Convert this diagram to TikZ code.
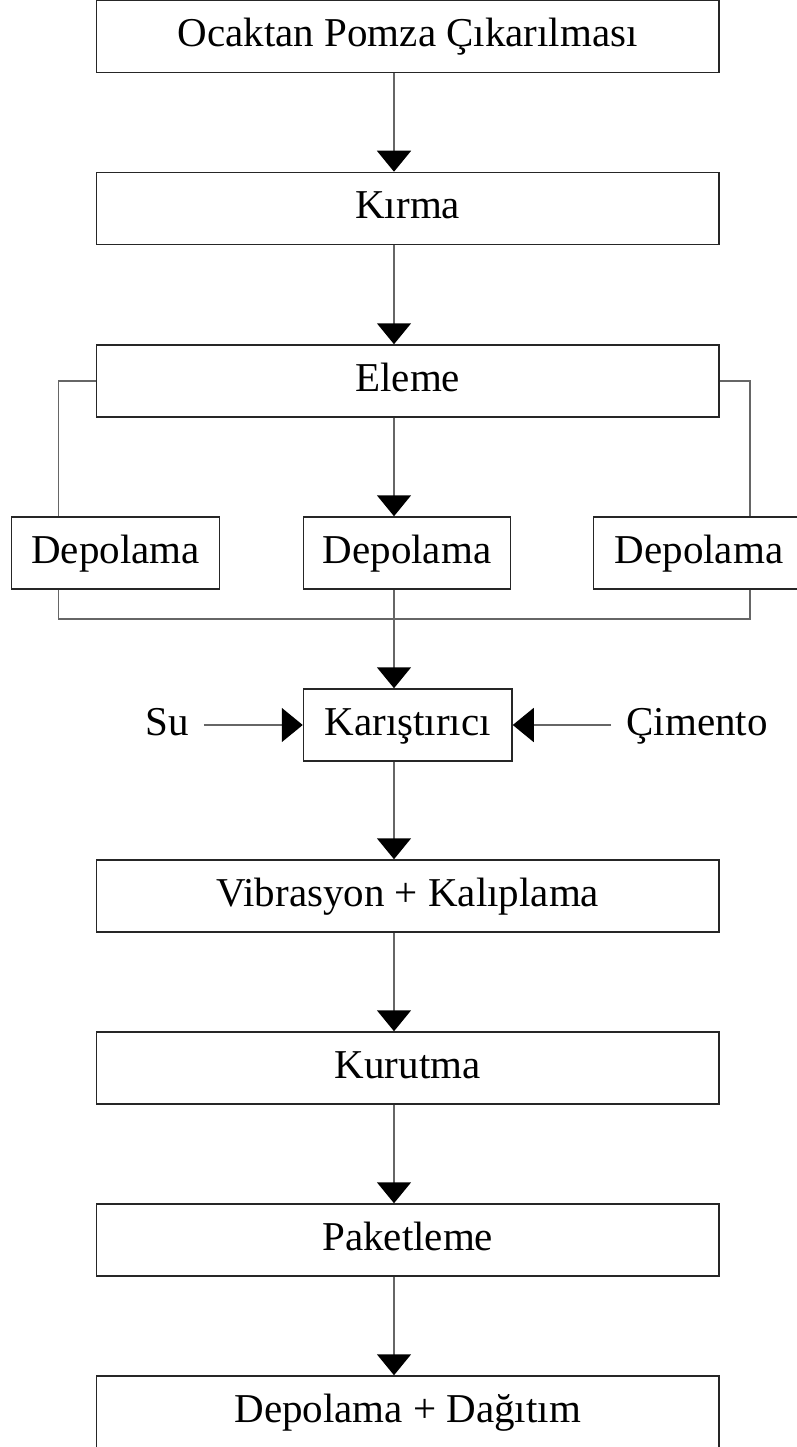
\documentclass[tikz,border=0pt]{standalone}
\usepackage{fontspec}
\setmainfont{Liberation Serif}
\usetikzlibrary{arrows.meta}
\begin{document}
\begin{tikzpicture}[x=1pt,y=-1pt,
  txt/.style={font=\fontsize{41}{49}\selectfont, text height=28.5pt, text depth=7.5pt},
  box/.style={txt, draw=black!85, line width=1.5pt, rectangle, inner sep=0pt, minimum height=72pt},
  wide/.style={box, minimum width=622.5pt},
  conn/.style={draw=black!60, line width=1.5pt},
  arr/.style={conn, -{Triangle[width=34pt,length=21pt,black]}},
  lab/.style={txt, inner xsep=15pt, inner ysep=0pt}]
\clip (0,0) rectangle (797,1447);
\fill[white] (0,0) rectangle (797,1447);
% column and bus coordinates
\coordinate (X) at (394,0);
\coordinate (L) at (58.5,0);
\coordinate (R) at (750,0);
\coordinate (busL) at (58.5,619);
\coordinate (busR) at (750,619);
% nodes
\node[wide] (b1) at (407.75,36.5) {Ocaktan Pomza Çıkarılması};
\node[wide] (kirma) at (407.75,208.5) {Kırma};
\node[wide] (eleme) at (407.75,381) {Eleme};
\node[box, minimum width=208pt] (dep1) at (115.5,553) {Depolama};
\node[box, minimum width=207pt] (dep2) at (407,553) {Depolama};
\node[box, minimum width=211pt] (dep3) at (699,553) {Depolama};
\node[box, minimum width=208.5pt] (kar) at (407.75,725) {Karıştırıcı};
\node[lab] (su) at (167,725) {Su};
\node[lab] (cim) at (697,725) {Çimento};
\node[wide] (vib) at (407.75,896) {Vibrasyon + Kalıplama};
\node[wide] (kur) at (407.75,1068) {Kurutma};
\node[wide] (pak) at (407.75,1240) {Paketleme};
\node[wide] (fin) at (407.75,1412) {Depolama + Dağıtım};
% connectors
\draw[arr] (b1.south -| X) -- (kirma.north -| X);
\draw[arr] (kirma.south -| X) -- (eleme.north -| X);
\draw[arr] (eleme.south -| X) -- (dep2.north -| X);
\draw[conn] (eleme.west) -| (dep1.north -| L);
\draw[conn] (eleme.east) -| (dep3.north -| R);
\draw[conn] (dep1.south -| L) -- (busL) -- (busR) -- (dep3.south -| R);
\draw[arr] (dep2.south -| X) -- (kar.north -| X);
\draw[arr] (su.east) -- (kar.west);
\draw[arr] (cim.west) -- (kar.east);
\draw[arr] (kar.south -| X) -- (vib.north -| X);
\draw[arr] (vib.south -| X) -- (kur.north -| X);
\draw[arr] (kur.south -| X) -- (pak.north -| X);
\draw[arr] (pak.south -| X) -- (fin.north -| X);
\end{tikzpicture}
\end{document}
